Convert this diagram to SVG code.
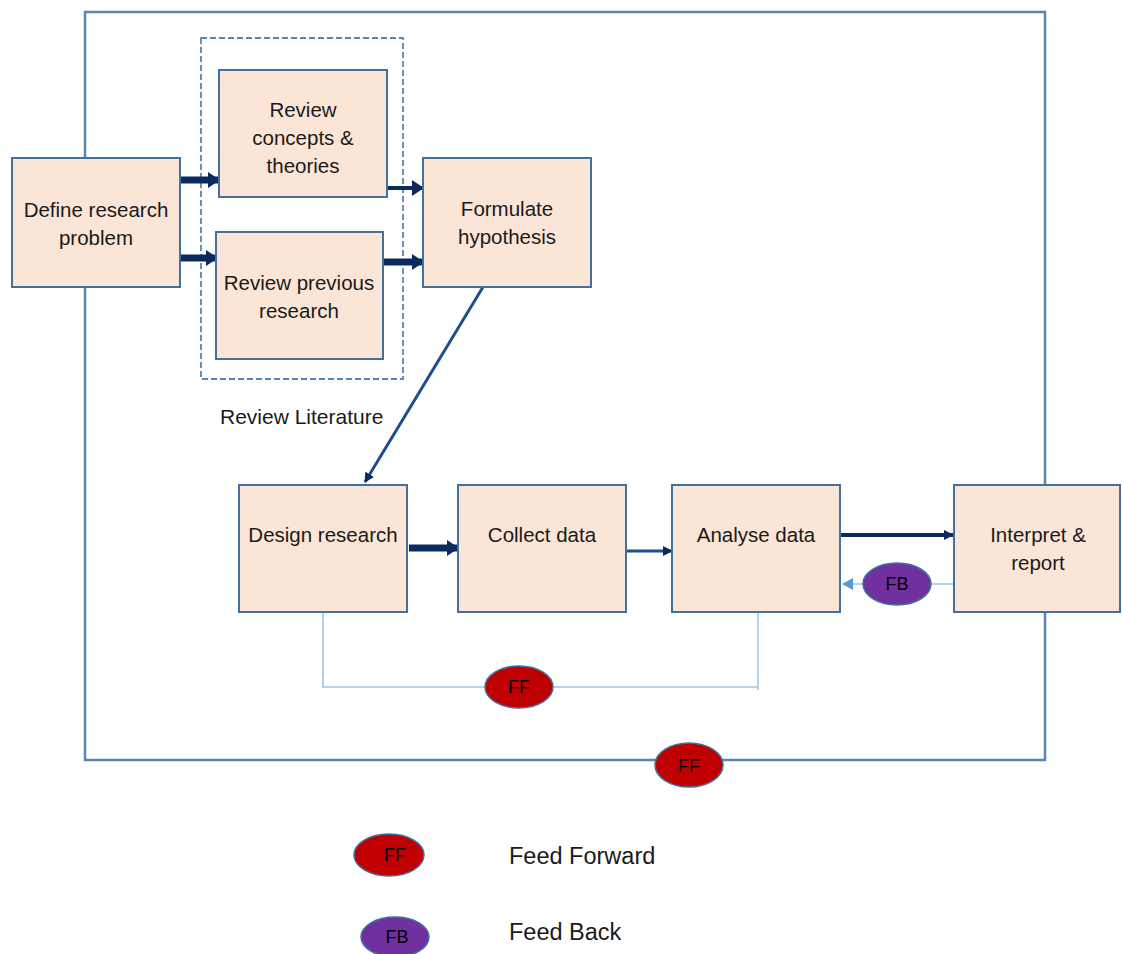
<svg xmlns="http://www.w3.org/2000/svg" width="1122" height="954" viewBox="0 0 1122 954">
  <style>
    .box { fill: #FBE5D6; stroke: #41719C; stroke-width: 2; }
    .lbl { font-family: "Liberation Sans", Arial, sans-serif; font-size: 20.5px; fill: #1a1a1a; text-anchor: middle; }
    .note { font-family: "Liberation Sans", Arial, sans-serif; font-size: 21px; fill: #1a1a1a; }
    .key { font-family: "Liberation Sans", Arial, sans-serif; font-size: 23.5px; fill: #1a1a1a; }
    .tag { font-family: "Liberation Sans", Arial, sans-serif; font-size: 18px; fill: #000; text-anchor: middle; }
    .ff { fill: #C00000; stroke: #41719C; stroke-width: 1.5; }
    .fb { fill: #7030A0; stroke: #41719C; stroke-width: 1.5; }
    .thick { stroke: #0B2A5E; stroke-width: 7; fill: none; }
    .mid { stroke: #0B2A5E; stroke-width: 4; fill: none; }
    .thin { stroke: #1F4E8C; stroke-width: 3; fill: none; }
    .light { stroke: #9DC3E6; stroke-width: 1.5; fill: none; }
  </style>
  <defs>
    <marker id="headBig" markerUnits="userSpaceOnUse" markerWidth="12" markerHeight="16" refX="11" refY="8" orient="auto">
      <path d="M0,0 L12,8 L0,16 Z" fill="#0B2A5E"/>
    </marker>
    <marker id="headSmall" markerUnits="userSpaceOnUse" markerWidth="10" markerHeight="10" refX="9" refY="5" orient="auto">
      <path d="M0,0 L10,5 L0,10 Z" fill="#0B2A5E"/>
    </marker>
    <marker id="headLight" markerUnits="userSpaceOnUse" markerWidth="11" markerHeight="12" refX="10" refY="6" orient="auto">
      <path d="M0,0 L11,6 L0,12 Z" fill="#5B9BD5"/>
    </marker>
  </defs>

  <!-- outer feed-forward loop -->
  <g id="outer-loop">
    <rect x="85" y="12" width="960" height="748" fill="none" stroke="#5B85B5" stroke-width="2.5"/>
  </g>

  <!-- review literature grouping -->
  <g id="review-literature">
    <rect x="201" y="38" width="202" height="341" fill="none" stroke="#5B85B5" stroke-width="1.8" stroke-dasharray="6 3"/>
    <text class="note" x="220" y="424">Review Literature</text>
  </g>

  <!-- connectors -->
  <g id="connectors">
    <line class="thick" x1="180" y1="180" x2="219" y2="180" marker-end="url(#headBig)"/>
    <line class="thick" x1="180" y1="258" x2="217" y2="258" marker-end="url(#headBig)"/>
    <line class="mid" x1="387" y1="188" x2="423" y2="188" marker-end="url(#headBig)"/>
    <line class="thick" x1="383" y1="262" x2="423" y2="262" marker-end="url(#headBig)"/>
    <line class="thin" x1="483" y1="287" x2="365" y2="482" marker-end="url(#headSmall)"/>
    <line class="thick" x1="409" y1="548" x2="458" y2="548" marker-end="url(#headBig)"/>
    <line class="thin" x1="626" y1="551" x2="672" y2="551" marker-end="url(#headSmall)"/>
    <line class="mid" x1="840" y1="535" x2="953" y2="535" marker-end="url(#headSmall)"/>
    <line class="light" x1="954" y1="584" x2="843" y2="584" marker-end="url(#headLight)"/>
    <polyline class="light" points="323,612 323,687 757,687"/>
    <line class="light" x1="758" y1="612" x2="758" y2="690"/>
  </g>

  <g id="define">
    <rect class="box" x="12" y="158" width="168" height="129"/>
    <text class="lbl" x="96" y="217">Define research</text>
    <text class="lbl" x="96" y="245">problem</text>
  </g>
  <g id="review-concepts">
    <rect class="box" x="219" y="70" width="168" height="127"/>
    <text class="lbl" x="303" y="117">Review</text>
    <text class="lbl" x="303" y="145">concepts &amp;</text>
    <text class="lbl" x="303" y="173">theories</text>
  </g>
  <g id="review-previous">
    <rect class="box" x="216" y="232" width="167" height="127"/>
    <text class="lbl" x="299" y="290">Review previous</text>
    <text class="lbl" x="299" y="318">research</text>
  </g>
  <g id="formulate">
    <rect class="box" x="423" y="158" width="168" height="129"/>
    <text class="lbl" x="507" y="216">Formulate</text>
    <text class="lbl" x="507" y="244">hypothesis</text>
  </g>
  <g id="design">
    <rect class="box" x="239" y="485" width="168" height="127"/>
    <text class="lbl" x="323" y="542">Design research</text>
  </g>
  <g id="collect">
    <rect class="box" x="458" y="485" width="168" height="127"/>
    <text class="lbl" x="542" y="542">Collect data</text>
  </g>
  <g id="analyse">
    <rect class="box" x="672" y="485" width="168" height="127"/>
    <text class="lbl" x="756" y="542">Analyse data</text>
  </g>
  <g id="interpret">
    <rect class="box" x="954" y="485" width="166" height="127"/>
    <text class="lbl" x="1038" y="542">Interpret &amp;</text>
    <text class="lbl" x="1038" y="570">report</text>
  </g>

  <g id="fb-analyse">
    <ellipse class="fb" cx="897" cy="584" rx="34" ry="21"/>
    <text class="tag" x="897" y="590">FB</text>
  </g>
  <g id="ff-inner">
    <ellipse class="ff" cx="519" cy="687" rx="34" ry="21"/>
    <text class="tag" x="519" y="693">FF</text>
  </g>
  <g id="ff-outer">
    <ellipse class="ff" cx="689" cy="765" rx="34" ry="22"/>
    <text class="tag" x="689" y="772">FF</text>
  </g>

  <!-- legend -->
  <g id="legend">
    <ellipse class="ff" cx="389" cy="855" rx="35" ry="21"/>
    <text class="tag" x="395" y="861">FF</text>
    <text class="key" x="509" y="864">Feed Forward</text>
    <ellipse class="fb" cx="395" cy="937" rx="34" ry="20"/>
    <text class="tag" x="397" y="943">FB</text>
    <text class="key" x="509" y="940">Feed Back</text>
  </g>
</svg>
